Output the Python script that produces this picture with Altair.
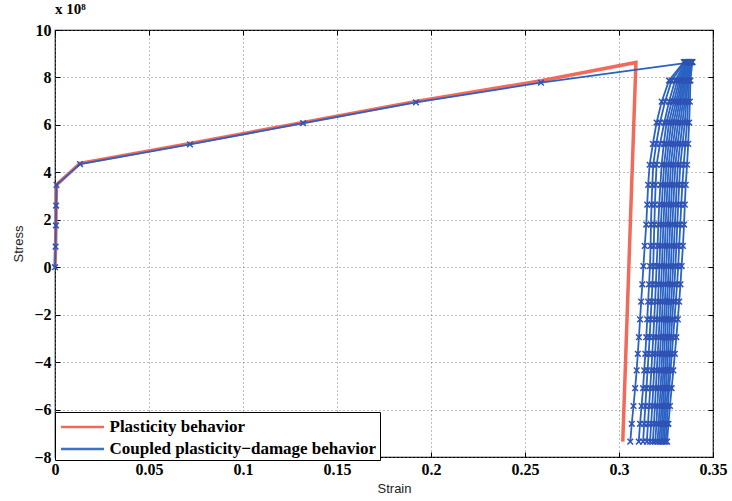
import altair as alt
import pandas as pd

# ---------------- data (stress in units of 1e8) ----------------
x_ticks = [0, 0.05, 0.1, 0.15, 0.2, 0.25, 0.3, 0.35]
y_ticks = [-8, -6, -4, -2, 0, 2, 4, 6, 8, 10]

series_names = ["Plasticity behavior", "Coupled plasticity\u2212damage behavior"]
series_colors = ["#ef5a48", "#2a62c4"]

plast_strain = [0.0, 0.0003, 0.0005, 0.0006, 0.0008, 0.0133, 0.0718, 0.132, 0.192, 0.2585, 0.309, 0.302]
plast_stress = [0.0, 0.87, 1.76, 2.60, 3.47, 4.38, 5.22, 6.10, 6.99, 7.86, 8.63, -7.35]

load_strain = [0.0, 0.0003, 0.0005, 0.0006, 0.0008, 0.0133, 0.0718, 0.132, 0.192, 0.2585, 0.339]
load_stress = [0.0, 0.87, 1.76, 2.60, 3.47, 4.35, 5.18, 6.07, 6.95, 7.78, 8.65]

unload_stress = [8.65, 7.87, 6.98, 6.10, 5.20, 4.32, 3.47, 2.64, 1.80, 0.90, 0.05,
                 -0.72, -1.45, -2.20, -2.95, -3.65, -4.35, -5.10, -5.85, -6.60, -7.35]

unload_strain = [
    [0.3345, 0.3266, 0.3227, 0.3200, 0.3180, 0.3163, 0.3155, 0.3150, 0.3145, 0.3137, 0.3130, 0.3124, 0.3118, 0.3112, 0.3106, 0.3100, 0.3094, 0.3086, 0.3077, 0.3068, 0.3060],
    [0.3350, 0.3280, 0.3245, 0.3218, 0.3198, 0.3182, 0.3177, 0.3173, 0.3170, 0.3168, 0.3165, 0.3160, 0.3155, 0.3150, 0.3145, 0.3140, 0.3134, 0.3128, 0.3120, 0.3112, 0.3105],
    [0.3355, 0.3298, 0.3266, 0.3241, 0.3218, 0.3200, 0.3195, 0.3191, 0.3188, 0.3185, 0.3182, 0.3178, 0.3173, 0.3168, 0.3163, 0.3158, 0.3152, 0.3146, 0.3140, 0.3134, 0.3128],
    [0.3360, 0.3310, 0.3280, 0.3253, 0.3238, 0.3227, 0.3220, 0.3214, 0.3209, 0.3205, 0.3200, 0.3196, 0.3192, 0.3187, 0.3182, 0.3177, 0.3172, 0.3166, 0.3160, 0.3154, 0.3148],
    [0.3363, 0.3320, 0.3292, 0.3266, 0.3252, 0.3240, 0.3233, 0.3228, 0.3223, 0.3219, 0.3215, 0.3211, 0.3207, 0.3202, 0.3197, 0.3192, 0.3187, 0.3182, 0.3177, 0.3171, 0.3165],
    [0.3366, 0.3328, 0.3303, 0.3278, 0.3264, 0.3252, 0.3246, 0.3241, 0.3236, 0.3232, 0.3228, 0.3224, 0.3220, 0.3216, 0.3211, 0.3206, 0.3201, 0.3196, 0.3191, 0.3186, 0.3180],
    [0.3369, 0.3335, 0.3313, 0.3290, 0.3276, 0.3264, 0.3258, 0.3253, 0.3248, 0.3244, 0.3240, 0.3236, 0.3232, 0.3228, 0.3223, 0.3218, 0.3214, 0.3209, 0.3204, 0.3199, 0.3193],
    [0.3372, 0.3341, 0.3322, 0.3302, 0.3288, 0.3276, 0.3270, 0.3265, 0.3260, 0.3256, 0.3252, 0.3248, 0.3244, 0.3240, 0.3235, 0.3230, 0.3226, 0.3221, 0.3216, 0.3211, 0.3205],
    [0.3375, 0.3347, 0.3331, 0.3314, 0.3300, 0.3288, 0.3282, 0.3277, 0.3272, 0.3268, 0.3264, 0.3260, 0.3255, 0.3250, 0.3245, 0.3240, 0.3236, 0.3231, 0.3226, 0.3221, 0.3215],
    [0.3378, 0.3353, 0.3340, 0.3326, 0.3312, 0.3300, 0.3294, 0.3289, 0.3284, 0.3280, 0.3276, 0.3271, 0.3266, 0.3261, 0.3256, 0.3251, 0.3246, 0.3240, 0.3235, 0.3230, 0.3224],
    [0.3381, 0.3360, 0.3349, 0.3338, 0.3325, 0.3313, 0.3307, 0.3302, 0.3297, 0.3292, 0.3288, 0.3283, 0.3278, 0.3272, 0.3266, 0.3260, 0.3255, 0.3249, 0.3243, 0.3238, 0.3232],
    [0.3384, 0.3366, 0.3358, 0.3350, 0.3338, 0.3326, 0.3320, 0.3315, 0.3310, 0.3305, 0.3300, 0.3295, 0.3289, 0.3283, 0.3277, 0.3271, 0.3265, 0.3259, 0.3252, 0.3246, 0.3240],
    [0.3387, 0.3373, 0.3367, 0.3362, 0.3353, 0.3344, 0.3337, 0.3331, 0.3326, 0.3320, 0.3315, 0.3309, 0.3302, 0.3295, 0.3288, 0.3281, 0.3274, 0.3267, 0.3260, 0.3254, 0.3248],
    [0.3390, 0.3380, 0.3377, 0.3373, 0.3368, 0.3362, 0.3355, 0.3350, 0.3346, 0.3340, 0.3333, 0.3327, 0.3320, 0.3313, 0.3305, 0.3297, 0.3289, 0.3280, 0.3271, 0.3263, 0.3256],
]

# ---------------- tables ----------------
red_rows = [dict(strain=s, stress=t, idx=i, series=series_names[0])
            for i, (s, t) in enumerate(zip(plast_strain, plast_stress))]
blue_rows = [dict(strain=s, stress=t, idx=i, curve=0, series=series_names[1])
             for i, (s, t) in enumerate(zip(load_strain, load_stress))]
for c, curve in enumerate(unload_strain, start=1):
    for i, (s, t) in enumerate(zip(curve, unload_stress)):
        blue_rows.append(dict(strain=s, stress=t, idx=i, curve=c, series=series_names[1]))
red_df = pd.DataFrame(red_rows)
blue_df = pd.DataFrame(blue_rows)

# ---------------- styling ----------------
SERIF = "Liberation Serif"
SANS = "Liberation Sans"
xs = alt.Scale(domain=[0, 0.35], nice=False, zero=False)
ys = alt.Scale(domain=[-8, 10], nice=False, zero=False)

common = dict(domain=False, ticks=True, tickSize=5, tickColor="black", tickWidth=1, offset=-5)
lab = dict(labelFont=SERIF, labelFontSize=16, labelFontWeight="bold", labelColor="black",
           labelPadding=4, labelFlush=False, labelOverlap=False)
ttl = dict(titleFont=SANS, titleFontSize=13, titleFontWeight="normal", titleColor="#222222")
grid = dict(grid=True, gridDash=[1, 3], gridColor="#7a7a7a", gridWidth=1)

axis_bottom = alt.Axis(orient="bottom", values=x_ticks, format="~g", title="Strain",
                       titlePadding=5, titleX=339, **common, **lab, **ttl, **grid)
axis_left = alt.Axis(orient="left", values=y_ticks, format="d", title="Stress",
                     titlePadding=8, **common, **lab, **ttl, **grid)
axis_top = alt.Axis(orient="top", values=x_ticks, labels=False, grid=False, title=None, **common)
axis_right = alt.Axis(orient="right", values=y_ticks, labels=False, grid=False, title=None, **common)

color = alt.Color(
    "series:N",
    scale=alt.Scale(domain=series_names, range=series_colors),
    legend=alt.Legend(
        title=None, orient="none", legendX=0, legendY=382, direction="vertical",
        symbolType="M-2,0H2", symbolSize=462, symbolStrokeWidth=2.5,
        symbolOffset=12.5, labelOffset=15, labelFont=SERIF, labelFontSize=17,
        labelFontWeight="bold", labelColor="black", labelLimit=500,
        fillColor="white", strokeColor="black", padding=3, rowPadding=2,
    ),
)

xmark = "M-1,-1L1,1M-1,1L1,-1"

red = alt.Chart(red_df).mark_line(strokeWidth=3.5, opacity=0.9).encode(
    x=alt.X("strain:Q", scale=xs, axis=axis_bottom),
    y=alt.Y("stress:Q", scale=ys, axis=axis_left),
    color=color,
    order="idx:Q",
)

blue_lines = alt.Chart(blue_df).mark_line(strokeWidth=1.8).encode(
    x=alt.X("strain:Q", scale=xs, axis=None),
    y=alt.Y("stress:Q", scale=ys, axis=None),
    color=color,
    detail="curve:N",
    order="idx:Q",
)

blue_pts = alt.Chart(blue_df).mark_point(
    shape=xmark, size=32, filled=False, strokeWidth=1.5, color="#2f52b4", opacity=1
).encode(
    x=alt.X("strain:Q", scale=xs, axis=axis_top),
    y=alt.Y("stress:Q", scale=ys, axis=axis_right),
)

chart = (
    alt.layer(red, blue_lines, blue_pts)
    .resolve_axis(x="independent", y="independent")
    .properties(
        width=658,
        height=427,
        autosize=alt.AutoSizeParams(type="none"),
        padding={"left": 55, "top": 30, "right": 19, "bottom": 44},
        title=alt.TitleParams("x 10\u2078", anchor="start", frame="group", font=SERIF,
                              fontSize=15, fontWeight="bold", color="black", offset=5),
        background="white",
    )
    .configure_view(stroke="black", strokeWidth=1.2)
)

chart.save("out.html", embed_options={"renderer": "svg", "actions": False})
